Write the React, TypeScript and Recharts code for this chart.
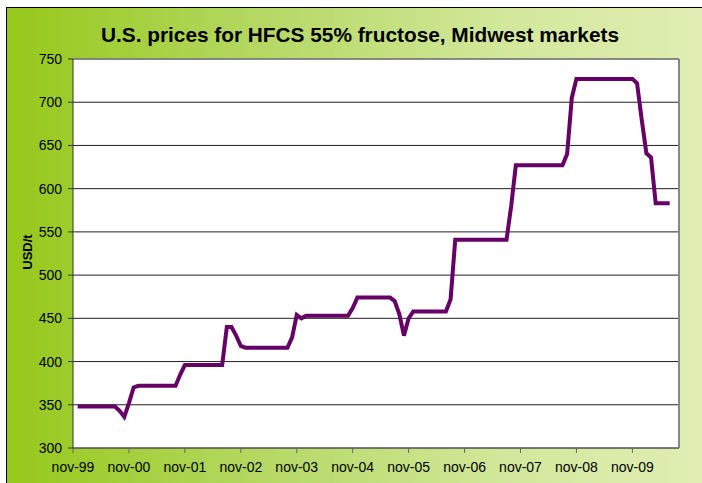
import { LineChart, Line, XAxis, YAxis, CartesianGrid, ReferenceLine } from 'recharts';

// month index counted from nov-99 (0 = nov-99, 12 = nov-00, ...)
const months = [1, 9, 10, 11, 12, 13, 14, 22, 23, 24, 32, 33, 34, 35, 36, 37, 46, 47, 48, 49, 50, 59, 60, 61, 68, 69, 70, 71, 72, 73, 80, 81, 82, 93, 94, 95, 105, 106, 107, 108, 120, 121, 122, 123, 124, 125, 128];
const prices = [348, 348, 343, 336, 352, 370, 372, 372, 385, 396, 396, 440, 440, 430, 418, 416, 416, 428, 454, 450, 453, 453, 462, 474, 474, 470, 455, 430, 450, 458, 458, 472, 541, 541, 580, 627, 627, 640, 705, 727, 727, 722, 680, 641, 636, 583, 583];

const tickLabels = ['nov-99', 'nov-00', 'nov-01', 'nov-02', 'nov-03', 'nov-04', 'nov-05', 'nov-06', 'nov-07', 'nov-08', 'nov-09'];
const yTicks = [300, 350, 400, 450, 500, 550, 600, 650, 700, 750];

const data = months.map((m, i) => ({ m, price: prices[i] }));
const xTicks = tickLabels.map((_, i) => i * 12);

const font = '"Liberation Sans", Arial, sans-serif';

export default function App() {
  return (
    <div style={{ position: 'fixed', left: 0, top: 0, width: 702, height: 483, background: '#fff', overflow: 'hidden' }}>
      <div
        style={{
          position: 'absolute',
          left: 6,
          top: 7,
          width: 700,
          height: 480,
          borderTop: '1.5px solid #000',
          borderLeft: '1.5px solid #000',
          background: 'linear-gradient(to right, #96c81a 0%, #b6d966 38%, #d3e89c 72%, #e0eeb4 100%)',
        }}
      />
      <svg width={702} height={483} style={{ position: 'absolute', left: 0, top: 0 }}>
        <text
          x={360}
          y={42}
          textAnchor="middle"
          fontFamily={font}
          fontWeight="bold"
          fontSize={21}
          textLength={518}
          lengthAdjust="spacingAndGlyphs"
          fill="#000"
        >
          U.S. prices for HFCS 55% fructose, Midwest markets
        </text>
        <text
          x={0}
          y={0}
          transform="translate(32,252) rotate(-90)"
          textAnchor="middle"
          fontFamily={font}
          fontWeight="bold"
          fontSize={13}
          fill="#000"
        >
          USD/t
        </text>
      </svg>
      <div style={{ position: 'absolute', left: 0, top: 0 }}>
        <LineChart width={702} height={483} data={data} margin={{ top: 59, right: 23, bottom: 0, left: 0 }}>
          <CartesianGrid horizontal vertical={false} stroke="#222" fill="#fff" fillOpacity={1} />
          <XAxis
            dataKey="m"
            type="number"
            domain={[0, 130]}
            ticks={xTicks}
            tickFormatter={(v: number) => tickLabels[v / 12]}
            height={35}
            tickSize={5}
            tickMargin={9}
            interval={0}
            stroke="#666"
            tick={{ fill: '#000', fontSize: 14, fontFamily: font }}
          />
          <YAxis
            type="number"
            domain={[300, 750]}
            ticks={yTicks}
            width={73}
            tickSize={5}
            tickMargin={6}
            interval={0}
            stroke="#333"
            tick={{ fill: '#000', fontSize: 14, fontFamily: font }}
          />
          <ReferenceLine y={750} stroke="#888" strokeWidth={1.5} />
          <ReferenceLine x={130} stroke="#888" strokeWidth={2} />
          <Line
            type="linear"
            dataKey="price"
            stroke="#660066"
            strokeWidth={4}
            dot={false}
            isAnimationActive={false}
          />
        </LineChart>
      </div>
    </div>
  );
}
